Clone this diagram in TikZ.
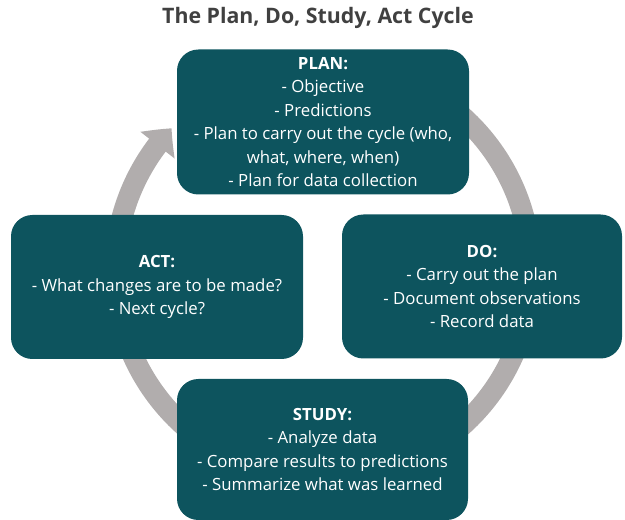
\documentclass[tikz,border=0pt]{standalone}
\usepackage{fontspec}
\setmainfont{Open Sans}
\usetikzlibrary{arrows.meta, bending, positioning}

\definecolor{boxteal}{RGB}{13,84,94}
\definecolor{ringgray}{RGB}{177,173,173}
\definecolor{titlegray}{RGB}{64,64,64}

\begin{document}
\begin{tikzpicture}[x=0.75pt, y=0.75pt, part/.style={
        rectangle,
        rounded corners=16pt,
        fill=boxteal,
        text=white,
        align=center,
        inner sep=0pt,
        font=\fontsize{12.6}{17.6}\selectfont
    }, ring/.style={
        draw=ringgray,
        line width=15.75pt,
        -{Triangle[width=31.5pt, length=16.5pt, bend]}
    }]
    \useasboundingbox (0,0) rectangle (625,-520);
    \coordinate (hub) at (323,-271);
    % cycle ring with its arrow into PLAN
    \draw [ring] (hub) ++(90:156pt) arc [start angle=90, end angle=-223.3, radius=156pt];

    \node (title) [text=titlegray, font=\fontsize{16}{18}\selectfont\bfseries] at (318,-18) {The Plan, Do, Study, Act Cycle};
    \node (plan) [part, minimum width=219pt, minimum height=108.75pt] at (323,-122)
        {\textbf{PLAN:}\\- Objective\\- Predictions\\- Plan to carry out the cycle (who,\\what, where, when)\\- Plan for data collection};
    \node (act) [part, minimum width=219pt, minimum height=108pt] at (157,-287)
        {\textbf{ACT:}\\- What changes are to be made?\\- Next cycle?};
    \node (do) [part, minimum width=210pt, minimum height=108pt] at (482,-286.5)
        {\textbf{DO:}\\- Carry out the plan\\- Document observations\\- Record data};
    \node (study) [part, minimum width=218.25pt, minimum height=105.75pt] at (322.5,-449.5)
        {\textbf{STUDY:}\\- Analyze data\\- Compare results to predictions\\- Summarize what was learned};

\end{tikzpicture}
\end{document}
